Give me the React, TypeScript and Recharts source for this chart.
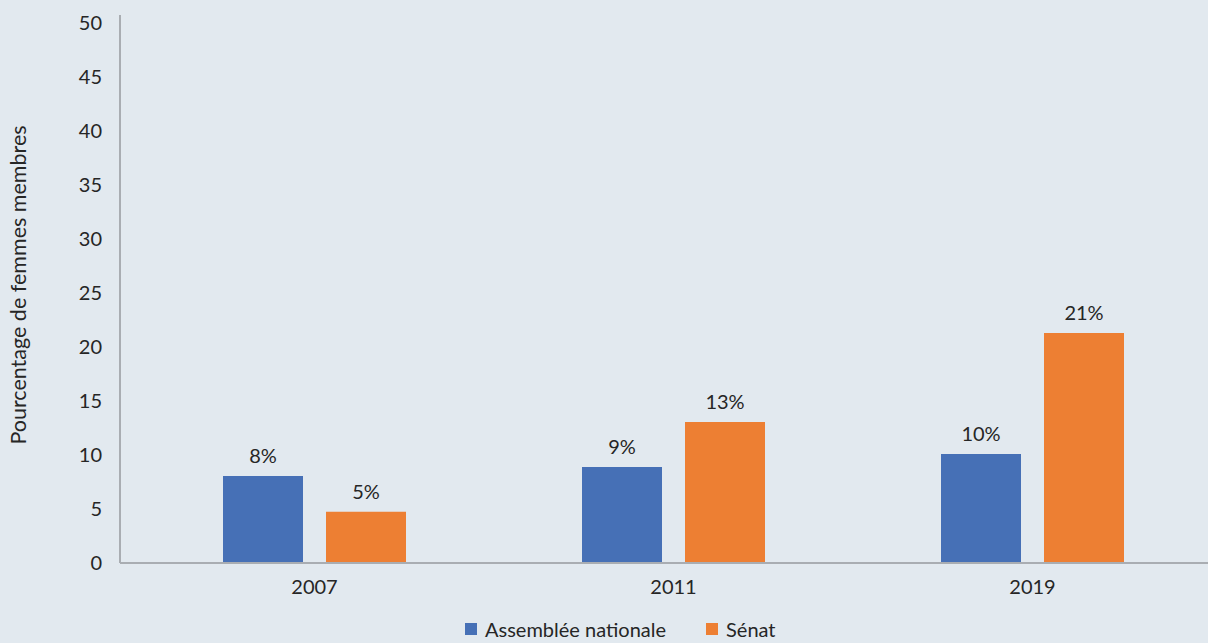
import { BarChart, Bar, XAxis, YAxis, Legend, LabelList } from "recharts";

const years = ["2007", "2011", "2019"];
const assemblee = [8.05, 8.9, 10.1];
const senat = [4.75, 13.05, 21.3];
const yTicks = [0, 5, 10, 15, 20, 25, 30, 35, 40, 45, 50];

const seriesNames = { assemblee: "Assemblée nationale", senat: "Sénat" };
const colors = { assemblee: "#4670B6", senat: "#ED7F33" };

const data = years.map((year, i) => ({
    year,
    assemblee: assemblee[i],
    senat: senat[i],
}));

const FONT = "Lato, 'Open Sans', sans-serif";
const TEXT = "#262626";

function LegendContent() {
    const items = [
        { key: "assemblee", label: seriesNames.assemblee, color: colors.assemblee },
        { key: "senat", label: seriesNames.senat, color: colors.senat },
    ];
    return (
        <div style={{ display: "flex", height: 24, alignItems: "flex-start", paddingLeft: 465 }}>
            {items.map((it) => (
                <div key={it.key} style={{ display: "flex", alignItems: "center", height: 20, marginRight: 40 }}>
                    <span style={{ width: 12, height: 12, background: it.color, marginRight: 8, display: "inline-block" }} />
                    <span style={{ fontFamily: FONT, fontSize: 20, color: TEXT, lineHeight: "20px" }}>{it.label}</span>
                </div>
            ))}
        </div>
    );
}

export default function App() {
    return (
        <div style={{ position: "absolute", left: 0, top: 0, width: 1208, height: 643, overflow: "hidden", background: "#E2E9EF" }}>
            <BarChart
                width={1220}
                height={643}
                data={data}
                margin={{ top: 15, right: 8, left: 0, bottom: 0 }}
                barSize={80}
                barGap={23}
            >
                <XAxis
                    dataKey="year"
                    padding={{ left: 15, right: 0 }}
                    axisLine={{ stroke: "#A9ADB2", strokeWidth: 2 }}
                    tickLine={false}
                    tick={{ fill: TEXT, fontSize: 20, fontFamily: FONT, dy: 9 }}
                    height={56}
                />
                <YAxis
                    domain={[0, 50.75]}
                    ticks={yTicks}
                    width={120}
                    axisLine={{ stroke: "#A9ADB2", strokeWidth: 2 }}
                    tickLine={false}
                    tick={{ fill: TEXT, fontSize: 20, fontFamily: FONT, dx: -10 }}
                    interval={0}
                    label={{
                        value: "Pourcentage de femmes membres",
                        angle: -90,
                        position: "insideLeft",
                        dx: 13,
                        dy: -4,
                        style: { fill: TEXT, fontSize: 21.5, fontFamily: FONT, textAnchor: "middle" },
                    }}
                />
                <Legend verticalAlign="bottom" height={24} content={<LegendContent />} />
                <Bar dataKey="assemblee" name={seriesNames.assemblee} fill={colors.assemblee} isAnimationActive={false}>
                    <LabelList
                        dataKey="assemblee"
                        position="top"
                        offset={13}
                        formatter={(v: number) => `${Math.round(v)}%`}
                        style={{ fill: TEXT, fontSize: 20, fontFamily: FONT }}
                    />
                </Bar>
                <Bar dataKey="senat" name={seriesNames.senat} fill={colors.senat} isAnimationActive={false}>
                    <LabelList
                        dataKey="senat"
                        position="top"
                        offset={13}
                        formatter={(v: number) => `${Math.round(v)}%`}
                        style={{ fill: TEXT, fontSize: 20, fontFamily: FONT }}
                    />
                </Bar>
            </BarChart>
        </div>
    );
}
